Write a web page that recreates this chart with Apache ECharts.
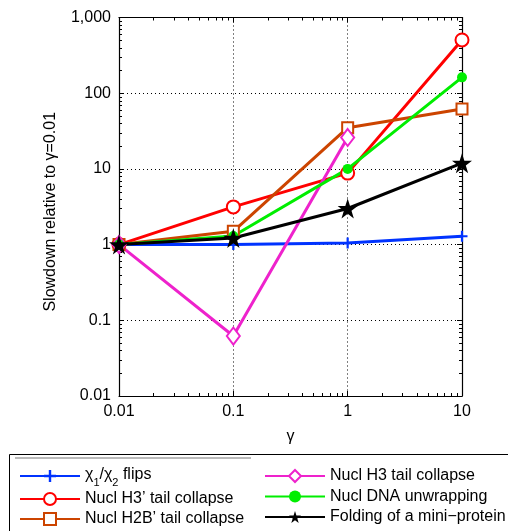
<!DOCTYPE html>
<html><head><meta charset="utf-8">
<script src="https://cdn.jsdelivr.net/npm/echarts@6/dist/echarts.min.js"></script>
<style>html,body{margin:0;padding:0;background:#fff}#c{width:508px;height:531px}</style>
</head><body><div id="c"></div><script>
const gamma = [0.01, 0.1, 1, 10];
const xTickLabels = ['0.01', '0.1', '1', '10'];
const yTickLabels = ['0.01', '0.1', '1', '10', '100', '1,000'];
const chiFlips = [1, 1.0, 1.05, 1.29];
const h3PrimeTail = [1, 3.15, 8.8, 505];
const h2bPrimeTail = [1, 1.5, 35, 62];
const h3Tail = [1, 0.062, 26, null];
const dnaUnwrap = [1, 1.3, 10, 162];
const miniProtein = [1, 1.22, 3.0, 11.9];
const minorMultipliers = [2, 3, 4, 5, 6, 7, 8, 9];
const xDecades = [0.01, 0.1, 1];
const yDecades = [0.01, 0.1, 1, 10, 100];

const FONT = 'Liberation Sans, Arial, Helvetica, sans-serif';
const FS = 16;
const PLUS = 'path://M4,0h2v4h4v2h-4v4h-2v-4h-4v-2h4z';
const STAR = 'path://M50,0 L61.2,34.5 L97.6,34.5 L68.2,55.9 L79.4,90.5 L50,69.1 L20.6,90.5 L31.8,55.9 L2.4,34.5 L38.8,34.5 Z';

const N_CHI = 'χ1/χ2 flips';
const N_H3P = 'Nucl H3’ tail collapse';
const N_H2B = 'Nucl H2B’ tail collapse';
const N_H3 = 'Nucl H3 tail collapse';
const N_DNA = 'Nucl DNA unwrapping';
const N_MINI = 'Folding of a mini−protein';

function pairs(ys) { return gamma.map((g, i) => [g, ys[i]]); }
function idx(v) { return Math.round(Math.log10(v)) + 2; }

function mkSeries(name, ys, color, symbol, size, extra) {
  return Object.assign({
    type: 'line', name, data: pairs(ys), connectNulls: false,
    symbol, symbolSize: size, clip: false,
    lineStyle: { color, width: 3 },
    itemStyle: { color, borderColor: color, borderWidth: 2.8 },
    emphasis: { disabled: true }, animation: false
  }, extra || {});
}

const minorX = [], minorY = [];
xDecades.forEach(d => minorMultipliers.forEach(m => minorX.push(d * m)));
yDecades.forEach(d => minorMultipliers.forEach(m => minorY.push(d * m)));

const axisCommon = {
  type: 'log', logBase: 10,
  axisLine: { show: true, lineStyle: { color: '#000', width: 1.2 } },
  axisTick: { show: true, inside: true, length: 5, lineStyle: { color: '#000' } },
  minorTick: { show: false },
};

const chart = echarts.init(document.getElementById('c'), null, { renderer: 'canvas' });
chart.setOption({
  animation: false,
  backgroundColor: '#fff',
  grid: { left: 119, right: 46, top: 17.5, bottom: 135, containLabel: false },
  xAxis: [
    Object.assign({}, axisCommon, {
      min: 0.01, max: 10, position: 'bottom',
      name: 'γ', nameLocation: 'middle', nameGap: 33,
      nameTextStyle: { fontFamily: FONT, fontSize: FS, color: '#000' },
      axisLabel: { margin: 8, fontFamily: FONT, fontSize: FS, color: '#000', formatter: v => xTickLabels[idx(v)] },
      splitLine: { show: true, lineStyle: { color: '#000', type: [1, 3], width: 1 } }
    }),
    Object.assign({}, axisCommon, {
      min: 0.01, max: 10, position: 'top',
      axisLabel: { show: false }, splitLine: { show: false }
    })
  ],
  yAxis: [
    Object.assign({}, axisCommon, {
      min: 0.01, max: 1000, position: 'left',
      name: 'Slowdown relative to γ=0.01', nameLocation: 'middle', nameGap: 60,
      nameTextStyle: { fontFamily: FONT, fontSize: FS, color: '#000', padding: [0, 10, 0, 0] },
      axisLabel: { margin: 8, fontFamily: FONT, fontSize: FS, color: '#000', formatter: v => yTickLabels[idx(v)] },
      splitLine: { show: true, lineStyle: { color: '#000', type: [1, 3], width: 1 } }
    }),
    Object.assign({}, axisCommon, {
      min: 0.01, max: 1000, position: 'right',
      axisLabel: { show: false }, splitLine: { show: false }
    })
  ],
  legend: [
    {
      data: [N_CHI, N_H3P, N_H2B], left: 19, top: 467, height: 150, padding: 0, orient: 'vertical',
      itemWidth: 60, itemHeight: 15, itemGap: 2, selectedMode: false,
      textStyle: {
        fontFamily: FONT, fontSize: FS, color: '#000', lineHeight: 18,
        rich: {
          n: { fontFamily: FONT, fontSize: FS, color: '#000', lineHeight: 18, verticalAlign: 'top' },
          s: { fontFamily: FONT, fontSize: 11, color: '#000', lineHeight: 13, padding: [10, 0, 0, 0], verticalAlign: 'top' }
        }
      },
      formatter: name => name === N_CHI ? '{n|χ}{s|1}{n|/χ}{s|2}{n| flips}' : name
    },
    {
      data: [N_H3, N_DNA, N_MINI], left: 264, top: 467, height: 150, padding: 0, orient: 'vertical',
      itemWidth: 60, itemHeight: 15, itemGap: 2.5, selectedMode: false,
      textStyle: { fontFamily: FONT, fontSize: FS, color: '#000', lineHeight: 18 }
    }
  ],
  graphic: [
    { type: 'rect', shape: { x: 9.5, y: 454.5, width: 520, height: 100 }, style: { fill: 'none', stroke: '#000', lineWidth: 1 }, z: 0 },
    { type: 'line', shape: { x1: 15, y1: 458, x2: 251, y2: 458 }, style: { stroke: '#777', lineWidth: 1 }, z: 0 }
  ],
  series: [
    mkSeries(N_CHI, chiFlips, '#0033ff', PLUS, 11, { itemStyle: { color: '#0033ff', borderWidth: 0 } }),
    mkSeries(N_H3P, h3PrimeTail, '#ff0000', 'emptyCircle', 13),
    mkSeries(N_H2B, h2bPrimeTail, '#cc4400', 'emptyRect', 11),
    mkSeries(N_H3, h3Tail, '#ee22cc', 'emptyDiamond', [13, 17]),
    mkSeries(N_DNA, dnaUnwrap, '#00ee00', 'circle', 10, { itemStyle: { color: '#00ee00', borderWidth: 0 } }),
    mkSeries(N_MINI, miniProtein, '#000000', STAR, 20, { itemStyle: { color: '#000', borderWidth: 0 } }),
    {
      type: 'custom', name: 'minorTicks', silent: true, clip: false, animation: false,
      xAxisIndex: 0, yAxisIndex: 0, data: [[1, 1]], z: 3,
      renderItem: function (params, api) {
        const bl = api.coord([0.01, 0.01]);
        const tr = api.coord([10, 1000]);
        const L = 3, children = [];
        const st = { stroke: '#000', lineWidth: 1 };
        minorX.forEach(v => {
          const x = Math.round(api.coord([v, 1])[0]) + 0.5;
          children.push({ type: 'line', shape: { x1: x, y1: bl[1], x2: x, y2: bl[1] - L }, style: st });
          children.push({ type: 'line', shape: { x1: x, y1: tr[1], x2: x, y2: tr[1] + L }, style: st });
        });
        minorY.forEach(v => {
          const y = Math.round(api.coord([1, v])[1]) + 0.5;
          children.push({ type: 'line', shape: { x1: bl[0], y1: y, x2: bl[0] + L, y2: y }, style: st });
          children.push({ type: 'line', shape: { x1: tr[0], y1: y, x2: tr[0] - L, y2: y }, style: st });
        });
        return { type: 'group', children };
      }
    }
  ]
});
</script></body></html>
